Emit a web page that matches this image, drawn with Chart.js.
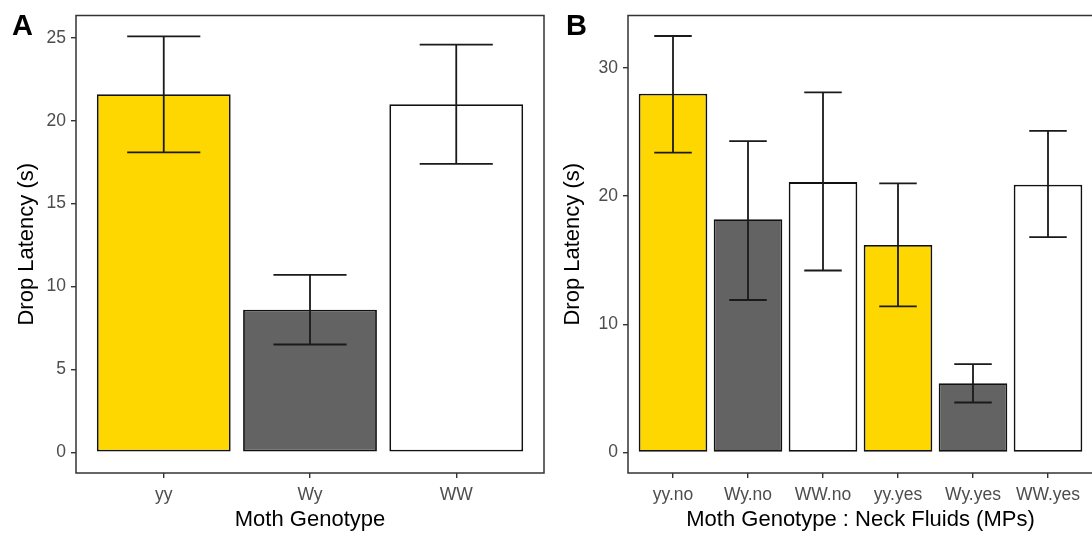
<!DOCTYPE html>
<html>
<head>
<meta charset="utf-8">
<script src="https://cdn.jsdelivr.net/npm/chart.js@4.4.0/dist/chart.umd.min.js"></script>
<style>
  html, body { margin: 0; padding: 0; background: #fff; overflow: hidden; }
  body { width: 1092px; height: 535px; position: relative; }
  .panel { position: absolute; top: 0; height: 535px; }
  .tag { position: absolute; top: 11px; font: bold 29px "Liberation Sans", Arial, sans-serif; line-height: 28px; color: #000; }
</style>
</head>
<body>
<div class="panel" id="wrapA" style="left:0;width:546px;"><canvas id="chartA"></canvas></div>
<div class="panel" id="wrapB" style="left:546px;width:550px;"><canvas id="chartB"></canvas></div>
<div class="tag" style="left:12px;">A</div>
<div class="tag" style="left:566px;">B</div>
<script>
// Panel A: genotype only
const labelsA = ['yy', 'Wy', 'WW'];
const meanA = [21.6, 8.6, 21.0];
const lowA = [18.1, 6.5, 17.4];
const highA = [25.1, 10.7, 24.6];
const yTicksA = [0, 5, 10, 15, 20, 25];

// Panel B: genotype x neck fluids
const labelsB = ['yy.no', 'Wy.no', 'WW.no', 'yy.yes', 'Wy.yes', 'WW.yes'];
const meanB = [28.0, 18.2, 21.1, 16.2, 5.4, 20.9];
const lowB = [23.4, 11.9, 14.2, 11.4, 3.9, 16.8];
const highB = [32.5, 24.3, 28.1, 21.0, 6.9, 25.1];
const yTicksB = [0, 10, 20, 30];

const GOLD = '#FFD700';
const GREY = '#636363';
const WHITE = '#FFFFFF';
const colorsA = [GOLD, GREY, WHITE];
const colorsB = [GOLD, GREY, WHITE, GOLD, GREY, WHITE];

const FONT = '"Liberation Sans", Arial, sans-serif';

// error bars + full panel border (ggplot style)
const errorBarPlugin = {
  id: 'errorBars',
  afterDatasetsDraw(chart, args, opts) {
    const { ctx, scales: { x, y } } = chart;
    ctx.save();
    ctx.strokeStyle = '#1a1a1a';
    ctx.lineWidth = 1.8;
    opts.low.forEach((lo, i) => {
      const hi = opts.high[i];
      const cx = x.getPixelForValue(i + 1);
      const x0 = x.getPixelForValue(i + 1 - 0.25);
      const x1 = x.getPixelForValue(i + 1 + 0.25);
      const yLo = y.getPixelForValue(lo);
      const yHi = y.getPixelForValue(hi);
      ctx.beginPath();
      ctx.moveTo(cx, yLo); ctx.lineTo(cx, yHi);
      ctx.moveTo(x0, yLo); ctx.lineTo(x1, yLo);
      ctx.moveTo(x0, yHi); ctx.lineTo(x1, yHi);
      ctx.stroke();
    });
    ctx.restore();
  },
  afterDraw(chart) {
    const { ctx, chartArea: a } = chart;
    ctx.save();
    ctx.strokeStyle = '#333333';
    ctx.lineWidth = 1.5;
    ctx.strokeRect(a.left, a.top, a.right - a.left, a.bottom - a.top);
    ctx.restore();
  }
};

function makePanel(canvasId, labels, means, lows, highs, colors, yTicks, yMin, yMax, xTitle, axisWidth, padRight) {
  const ctx = document.getElementById(canvasId).getContext('2d');
  return new Chart(ctx, {
    type: 'bar',
    data: {
      datasets: [{
        data: labels.map((l, i) => ({ x: i + 1, y: means[i] })),
        backgroundColor: colors,
        borderColor: '#111111',
        borderWidth: 1.8,
        borderSkipped: false,
        barPercentage: 0.915,
        categoryPercentage: 1.0
      }]
    },
    options: {
      responsive: true,
      maintainAspectRatio: false,
      animation: false,
      events: [],
      layout: { padding: { top: 10, right: padRight, bottom: 0, left: 0 } },
      plugins: {
        legend: { display: false },
        tooltip: { enabled: false },
        errorBars: { low: lows, high: highs }
      },
      scales: {
        x: {
          type: 'linear',
          offset: false,
          min: 0.4,
          max: labels.length + 0.6,
          afterBuildTicks: (scale) => { scale.ticks = labels.map((l, i) => ({ value: i + 1 })); },
          afterFit: (scale) => { scale.height = 62; },
          border: { display: false },
          grid: { display: true, offset: false, drawOnChartArea: false, drawTicks: true, tickLength: 5, color: '#333333', lineWidth: 1.4 },
          ticks: {
            autoSkip: false,
            maxRotation: 0,
            padding: 7,
            color: '#4D4D4D',
            font: { family: FONT, size: 17.5 },
            callback: (v) => labels[Math.round(v) - 1]
          },
          title: { display: true, text: xTitle, color: '#000', font: { family: FONT, size: 22 }, padding: { top: 0, bottom: 2 } }
        },
        y: {
          min: yMin,
          max: yMax,
          afterBuildTicks: (scale) => { scale.ticks = yTicks.map(v => ({ value: v })); },
          afterFit: (scale) => { scale.width = axisWidth; },
          border: { display: false },
          grid: { display: true, drawOnChartArea: false, drawTicks: true, tickLength: 5, color: '#333333', lineWidth: 1.4 },
          ticks: {
            padding: 5,
            color: '#4D4D4D',
            font: { family: FONT, size: 17.5 }
          },
          title: { display: true, text: 'Drop Latency (s)', color: '#000', font: { family: FONT, size: 22 }, padding: { top: 14, bottom: 0 } }
        }
      }
    },
    plugins: [errorBarPlugin]
  });
}

makePanel('chartA', labelsA, meanA, lowA, highA, colorsA, yTicksA, -1.255, 26.355, 'Moth Genotype', 76, 2);
makePanel('chartB', labelsB, meanB, lowB, highB, colorsB, yTicksB, -1.6, 34.1, 'Moth Genotype : Neck Fluids (MPs)', 82, 3);
</script>
</body>
</html>
